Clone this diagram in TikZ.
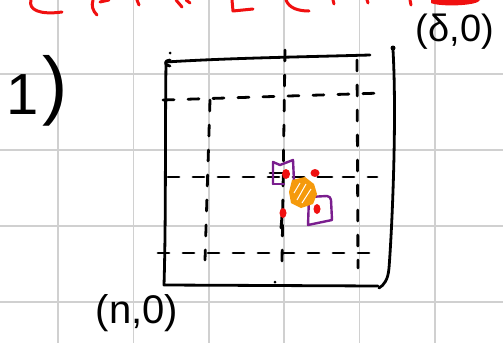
\documentclass[tikz,border=0pt]{standalone}
\usepackage{fontspec}
\setmainfont{Liberation Sans}
\definecolor{gridgrey}{HTML}{D0D0D0}
\definecolor{penpurple}{HTML}{7A1E8E}
\definecolor{penorange}{HTML}{F59A0C}
\definecolor{penred}{HTML}{F01010}
\tikzset{
  gridline/.style={draw=gridgrey, line width=1.6pt},
  ink/.style={draw=black, line width=2.8pt, line cap=round, line join=round},
  dashink/.style={ink, dash pattern=on 11pt off 14pt},
  redink/.style={draw=penred, line width=3pt, line cap=round, line join=round},
  purpleink/.style={draw=penpurple, line width=2.4pt, line cap=round, line join=round},
  reddot/.style={fill=penred},
  hand/.style={inner sep=0pt, outer sep=0pt, text=black}
}
\begin{document}
\begin{tikzpicture}[x=1pt,y=-1pt]
\useasboundingbox (0,0) rectangle (503,343);
\fill[white] (0,0) rectangle (503,343);
% grid paper
\foreach \x in {58,133.3,209,284,359.5,435} \draw[gridline] (\x,0) -- (\x,343);
\foreach \y in {74,150,226,302} \draw[gridline] (0,\y) -- (503,\y);
% red heading, cut off at the top
\draw[redink] (31,0) .. controls (28,10) and (40,15) .. (62,12);
\draw[redink] (93,0) .. controls (91,6) and (93,11) .. (97,15);
\draw[redink] (100,2) -- (109,0);
\draw[redink] (137,0) -- (139,5);
\draw[redink] (176,0) -- (182,7);
\draw[redink] (186,0) -- (190,3);
\draw[redink] (232,0) -- (233,11) -- (253,9);
\draw[redink] (286,0) .. controls (289,8) and (298,11) .. (309,11);
\draw[redink] (333,0) -- (334,4);
\draw[redink] (367,0) -- (368,3);
\draw[redink] (410,0) -- (411,5);
\fill[penred] (431,0) -- (480,0) .. controls (478,6) and (440,7) .. (431,3) -- cycle;
% outer square
\draw[ink] (166,62) .. controls (230,58) and (300,57) .. (370,55);
\draw[ink] (170,66) .. controls (164,66) and (164,60) .. (170,60);
\draw[ink] (166,62) .. controls (165,140) and (166,220) .. (164,285) -- (378,286);
\draw[ink] (393,50) .. controls (397,120) and (392,230) .. (389,268) .. controls (388,280) and (384,285) .. (379,288);
\fill (393,48) circle (2.5pt);
\fill (170,53) circle (1.5pt);
% dashed inner lines
\draw[dashink] (163,100) -- (383,93);
\draw[dashink] (168,177) -- (377,177);
\draw[dashink] (158,253) -- (372,253);
\draw[dashink] (210,100) -- (205,260);
\draw[dashink] (285,50) -- (282,262);
\draw[dashink] (357,60) -- (358,268);
\fill (275,282) circle (1.5pt);
% centre detail
\draw[ink] (270,173) -- (284,173);
\draw[ink] (318,177) -- (332,177);
\draw[ink] (282,216) -- (281,228);
\draw[purpleink] (273,184) -- (273,162) -- (280,165) -- (293,160) -- (294,181);
\draw[purpleink] (273,184) -- (284,184);
\draw[purpleink] (309,197) -- (327,196) .. controls (330,197) .. (331,200) -- (332,220) -- (308,225) -- cycle;
\fill[penorange] (292,180) -- (305,177) -- (314,184) -- (317,194) -- (313,204) -- (301,208) -- (291,203) -- (289,192) -- cycle;
\draw[white, line width=1pt] (297,200) -- (306,184);
\draw[white, line width=1pt] (302,203) -- (311,189);
\draw[white, line width=1pt] (294,193) -- (300,183);
\fill[reddot] (286,174) ellipse (4pt and 5pt);
\fill[reddot] (315,173) ellipse (4.5pt and 4pt);
\fill[reddot] (283,213) ellipse (3.5pt and 5pt);
\fill[reddot] (317,209) ellipse (3.5pt and 5pt);
% handwritten labels
\node[hand] (one) at (23,95) {\fontsize{58}{58}\selectfont 1};
\node[hand] (paren) at (55,91) {\fontsize{76}{76}\selectfont )};
\node[hand] (topright) at (455,32) {\fontsize{38}{38}\selectfont (δ,0)};
\node[hand] (botleft) at (137,313) {\fontsize{40}{40}\selectfont (n,0)};
\end{tikzpicture}
\end{document}
